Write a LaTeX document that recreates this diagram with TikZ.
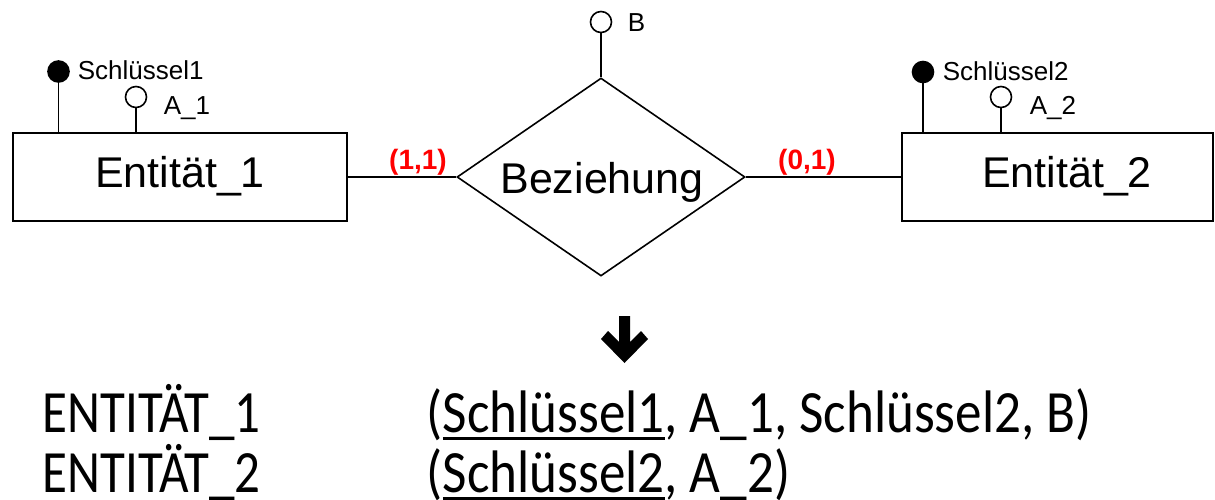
\documentclass[tikz,border=0pt]{standalone}
\usepackage{fontspec}
\setmainfont{Liberation Sans}
\newfontfamily\calibri{Carlito}
\usetikzlibrary{shapes.geometric}
\newcommand\myul[1]{\setbox0\hbox{#1}\rlap{\rule[-8pt]{\wd0}{3.4pt}}\box0}
\begin{document}
\begin{tikzpicture}[x=1pt,y=-1pt,line width=1.6pt,
  entity/.style={draw, rectangle, minimum height=88pt, inner sep=0pt},
  etext/.style={anchor=base, inner sep=0pt, font=\fontsize{43}{50}\selectfont},
  rel/.style={draw, diamond, shape aspect=1.4545, minimum width=288pt, minimum height=198pt, inner sep=0pt},
  keyattr/.style={draw, circle, fill=black, minimum size=21pt, inner sep=0pt},
  attr/.style={draw, circle, fill=white, minimum size=21pt, inner sep=0pt},
  lbl/.style={anchor=base west, inner sep=0pt, font=\fontsize{26}{30}\selectfont},
  card/.style={text=red, inner sep=0pt, font=\bfseries\fontsize{28}{30}\selectfont},
  rowtext/.style={anchor=base west, inner sep=0pt, font=\calibri\fontsize{60}{70}\selectfont}]
\useasboundingbox (0,0) rectangle (1215,500);
% entities and relationship
\node[entity, minimum width=334pt] (e1) at (180,177) {};
\node[etext] (e1t) at (180,187) {Entität\_1};
\node[entity, minimum width=311pt] (e2) at (1057.5,177) {};
\node[etext] (e2t) at (1067,187) {Entität\_2};
\node[rel] (r) at (601,177) {};
\node[etext] (rt) at (602,193) {Beziehung};
% attributes
\node[keyattr] (k1) at (58.5,71.5) {};
\node[lbl] (k1l) at (77,80) {Schlüssel1};
\node[attr] (a1) at (136,97) {};
\node[lbl] (a1l) at (163,115) {A\_1};
\node[keyattr] (k2) at (923,72) {};
\node[lbl] (k2l) at (942,81) {Schlüssel2};
\node[attr] (a2) at (1001,97) {};
\node[lbl] (a2l) at (1029,115) {A\_2};
\node[attr] (b) at (601,22) {};
\node[lbl] (bl) at (627,32) {B};
\draw (k1) -- (k1 |- e1.north);
\draw (a1) -- (a1 |- e1.north);
\draw (k2) -- (k2 |- e2.north);
\draw (a2) -- (a2 |- e2.north);
\draw (b) -- (r.north);
% relationship connectors
\draw (e1.east) -- (r.west);
\draw (r.east) -- (e2.west);
\node[card] (c1) at (418,162) {(1,1)};
\node[card] (c2) at (807,162) {(0,1)};
% arrow
\fill (619,316) -- (630,316) -- (630,342) -- (641,331) -- (648,339) -- (624.5,363) -- (601,339) -- (608,331) -- (619,342) -- cycle;
% relational schema
\node[rowtext] (t1) at (42,432) {\scalebox{0.85}[1]{ENTITÄT\_1}};
\node[rowtext] (s1) at (426,432) {\scalebox{0.885}[1]{(\myul{Schlüssel1}, A\_1, Schlüssel2, B)}};
\node[rowtext] (t2) at (42,492) {\scalebox{0.85}[1]{ENTITÄT\_2}};
\node[rowtext] (s2) at (426,492) {\scalebox{0.885}[1]{(\myul{Schlüssel2}, A\_2)}};
\end{tikzpicture}
\end{document}
